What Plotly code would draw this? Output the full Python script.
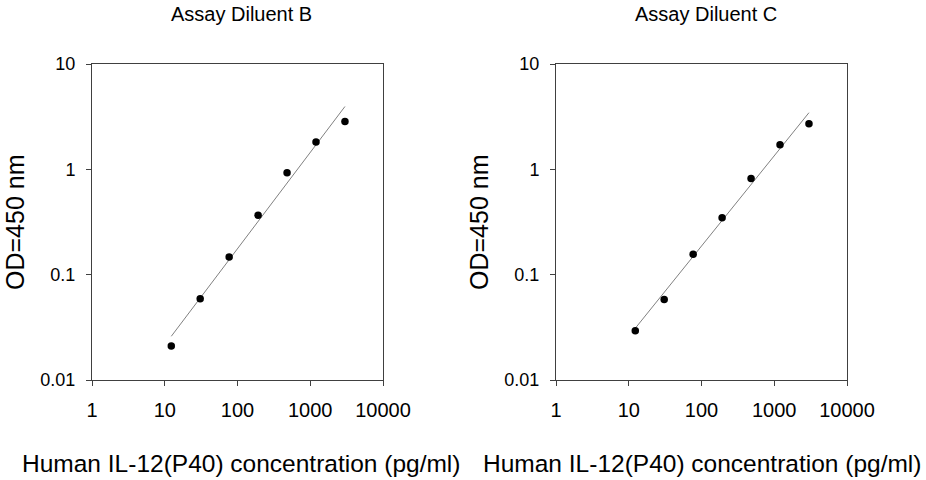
import plotly.graph_objects as go

# standard concentrations (pg/ml) and OD readings
conc = [12.3, 30.7, 76.8, 192, 480, 1200, 3000]
od_b = [0.021, 0.059, 0.147, 0.367, 0.93, 1.82, 2.85]
od_c = [0.0294, 0.058, 0.156, 0.347, 0.82, 1.71, 2.71]

# fitted line end points
fit_x = [12.3, 3000]
fit_b = [0.026, 3.95]
fit_c = [0.031, 3.45]

panel_titles = ["Assay Diluent B", "Assay Diluent C"]
x_title = "Human IL-12(P40) concentration (pg/ml)"
y_title = "OD=450 nm"
x_ticks = [1, 10, 100, 1000, 10000]
x_ticktext = ["1", "10", "100", "1000", "10000"]
y_ticks = [0.01, 0.1, 1, 10]
y_ticktext = ["0.01", "0.1", "1", "10"]

FONT = "Liberation Sans, Arial, sans-serif"
W, H = 926, 480


def px_x(x):
    return x / W


def px_y(y):
    return 1 - y / H


fig = go.Figure()

# (xaxis, yaxis, data, fit, plot box px, x-title centre shift)
panels = [
    ("x", "y", od_b, fit_b, (92, 383), 3),
    ("x2", "y2", od_c, fit_c, (556, 847), 0),
]
for xa, ya, od, fit, _, _ in panels:
    fig.add_trace(go.Scatter(
        x=fit_x, y=fit, xaxis=xa, yaxis=ya, mode="lines",
        line=dict(color="#808080", width=1), showlegend=False,
    ))
    fig.add_trace(go.Scatter(
        x=conc, y=od, xaxis=xa, yaxis=ya, mode="markers",
        marker=dict(color="black", size=7.5), showlegend=False,
    ))

y_dom = [px_y(380), px_y(64)]
axis_common = dict(
    type="log", showline=True, linecolor="#404040", linewidth=1,
    mirror=True, ticks="outside", ticklen=5, tickcolor="#404040",
    showgrid=False, zeroline=False, automargin=False,
)

layout = dict(
    template="none",
    width=W, height=H,
    margin=dict(l=0, r=0, t=0, b=0, pad=0),
    paper_bgcolor="white", plot_bgcolor="white",
    font=dict(family=FONT, color="black"),
    showlegend=False,
)
annotations = []
for i, (xa, ya, _, _, (x0, x1), shift) in enumerate(panels):
    suffix = "" if i == 0 else "2"
    layout["xaxis" + suffix] = dict(
        axis_common, domain=[px_x(x0), px_x(x1)], range=[0, 4],
        tickvals=x_ticks, ticktext=x_ticktext, tickfont=dict(size=20),
        ticklabelstandoff=7, anchor=ya,
    )
    layout["yaxis" + suffix] = dict(
        axis_common, domain=y_dom, range=[-2, 1],
        tickvals=y_ticks, ticktext=y_ticktext, tickfont=dict(size=18),
        ticklabelstandoff=7, anchor=xa,
    )
    cx = (x0 + x1) / 2
    annotations.append(dict(
        text=panel_titles[i], x=px_x(cx + 4), y=px_y(14),
        xref="paper", yref="paper", showarrow=False,
        font=dict(size=20), xanchor="center", yanchor="middle",
    ))
    annotations.append(dict(
        text=x_title, x=px_x(cx + shift), y=px_y(463),
        xref="paper", yref="paper", showarrow=False,
        font=dict(size=24.5), xanchor="center", yanchor="middle",
    ))
    annotations.append(dict(
        text=y_title, x=px_x(x0 - 77), y=px_y(222),
        xref="paper", yref="paper", showarrow=False, textangle=-90,
        font=dict(size=25), xanchor="center", yanchor="middle",
    ))
layout["annotations"] = annotations

fig.update_layout(**layout)
# drop the browser's default 8px body margin so the figure fills the window
fig.write_html(
    "out.html",
    config={"displayModeBar": False},
    post_script="document.body.style.margin = '0';",
)
